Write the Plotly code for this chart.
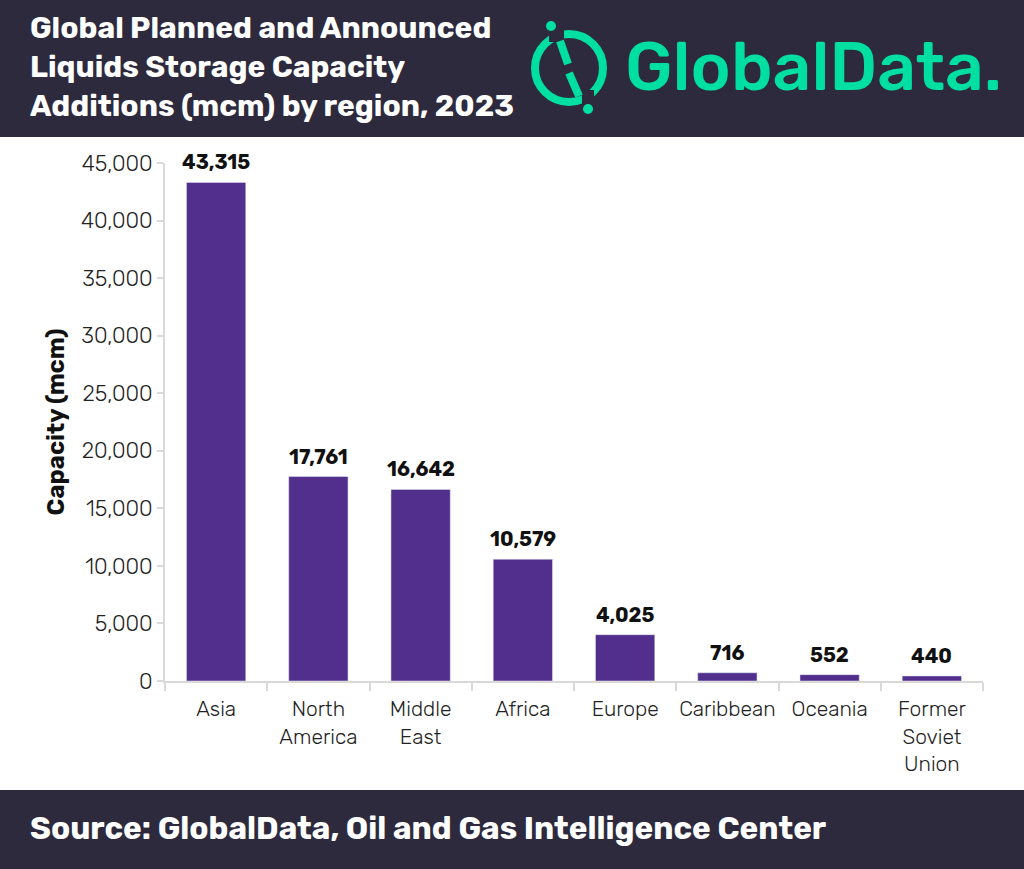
import plotly.graph_objects as go

regions = ["Asia", "North<br>America", "Middle<br>East", "Africa", "Europe",
           "Caribbean", "Oceania", "Former<br>Soviet<br>Union"]
capacity = [43315, 17761, 16642, 10579, 4025, 716, 552, 440]
y_ticks = [0, 5000, 10000, 15000, 20000, 25000, 30000, 35000, 40000, 45000]

W, H = 1024, 869
ML, MR, MT, MB = 165, 41, 163, 188
PW, PH = W - ML - MR, H - MT - MB

DARK = "#2e2a3e"
GREEN = "#00dfa2"
PURPLE = "#532f8d"
FONT = "Rubik, Roboto, sans-serif"


def px(x):
    return (x - ML) / PW


def py(y):
    return (H - MB - y) / PH


fig = go.Figure(go.Bar(x=regions, y=capacity, marker_color=PURPLE, cliponaxis=False))

# value labels above the bars
labels = [
    dict(x=r, y=v, text=f"{v:,}", xref="x", yref="y", showarrow=False,
         yanchor="bottom", yshift=6,
         font=dict(family=FONT, size=20, color="#111111", weight="bold"))
    for r, v in zip(regions, capacity)
]

shapes = [
    dict(type="rect", xref="paper", yref="paper", x0=px(0), x1=px(W), y0=py(0), y1=py(137),
         fillcolor=DARK, line_width=0, layer="below"),
    dict(type="rect", xref="paper", yref="paper", x0=px(0), x1=px(W), y0=py(790), y1=py(H),
         fillcolor=DARK, line_width=0, layer="below"),
    # logo ring
    dict(type="circle", xref="paper", yref="paper", x0=px(535), x1=px(603), y0=py(34), y1=py(102),
         line=dict(color=GREEN, width=8)),
    # gaps in the ring
    dict(type="rect", xref="paper", yref="paper", x0=px(549), x1=px(564), y0=py(28), y1=py(42),
         fillcolor=DARK, line_width=0),
    dict(type="rect", xref="paper", yref="paper", x0=px(582), x1=px(594), y0=py(90), y1=py(106),
         fillcolor=DARK, line_width=0),
    # slash
    dict(type="line", xref="paper", yref="paper", x0=px(560), x1=px(568), y0=py(41), y1=py(64),
         line=dict(color=GREEN, width=8)),
    dict(type="line", xref="paper", yref="paper", x0=px(569), x1=px(579), y0=py(73), y1=py(96),
         line=dict(color=GREEN, width=8)),
    # dots
    dict(type="circle", xref="paper", yref="paper", x0=px(546), x1=px(556), y0=py(21), y1=py(31),
         fillcolor=GREEN, line_width=0),
    dict(type="circle", xref="paper", yref="paper", x0=px(583), x1=px(593), y0=py(104), y1=py(114),
         fillcolor=GREEN, line_width=0),
]

annotations = labels + [
    dict(text="Global Planned and Announced<br>Liquids Storage Capacity<br>Additions (mcm) by region, 2023",
         xref="paper", yref="paper", x=px(28), y=py(67), xanchor="left", yanchor="middle",
         align="left", showarrow=False,
         font=dict(family=FONT, size=30, color="white", weight="bold")),
    dict(text="GlobalData.", xref="paper", yref="paper", x=px(623), y=py(67),
         xanchor="left", yanchor="middle", showarrow=False,
         font=dict(family=FONT, size=68, color=GREEN, weight=500)),
    dict(text="Source: GlobalData, Oil and Gas Intelligence Center",
         xref="paper", yref="paper", x=px(28), y=py(829), xanchor="left", yanchor="middle",
         showarrow=False, font=dict(family=FONT, size=31.5, color="white", weight="bold")),
]

fig.update_layout(
    width=W, height=H,
    margin=dict(l=ML, r=MR, t=MT, b=MB),
    paper_bgcolor="white", plot_bgcolor="white",
    bargap=0.42,
    showlegend=False,
    shapes=shapes,
    annotations=annotations,
    font=dict(family=FONT, color="#222222"),
)
fig.update_xaxes(
    showgrid=False, showline=True, linecolor="#d9d9d9", linewidth=2,
    ticks="outside", tickson="boundaries", ticklen=8, tickcolor="#d9d9d9", tickwidth=2,
    ticklabelstandoff=8, tickangle=0,
    tickfont=dict(family=FONT, size=21, color="#222222", weight=300),
)
fig.update_yaxes(
    range=[0, 45000], tickvals=y_ticks, tickformat=",",
    showgrid=False, showline=True, linecolor="#d9d9d9", linewidth=2,
    ticks="outside", ticklen=6, tickcolor="#d9d9d9", tickwidth=2,
    tickfont=dict(family=FONT, size=22, color="#222222", weight=300),
    title=dict(text="Capacity (mcm)", standoff=10,
               font=dict(family=FONT, size=24, color="#111111", weight="bold")),
)

fig.write_html("out.html", config={"displayModeBar": False},
               post_script="document.body.style.margin='0';")
